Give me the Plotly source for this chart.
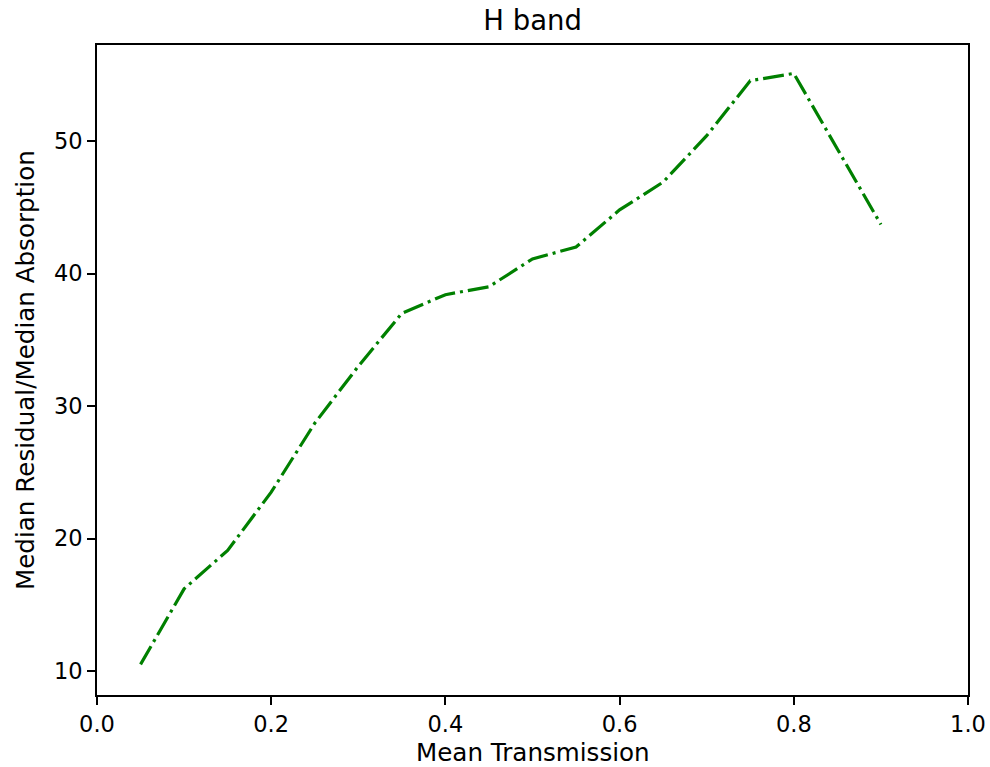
import plotly.graph_objects as go

mean_transmission = [0.05, 0.10, 0.15, 0.20, 0.25, 0.30, 0.35, 0.40, 0.45,
                     0.50, 0.55, 0.60, 0.65, 0.70, 0.75, 0.80, 0.85, 0.90]
median_ratio = [10.5, 16.2, 19.1, 23.5, 28.7, 33.0, 37.0, 38.4, 39.0,
                41.1, 42.0, 44.8, 46.9, 50.4, 54.55, 55.1, 49.4, 43.7]

x_ticks = [0.0, 0.2, 0.4, 0.6, 0.8, 1.0]
x_tick_labels = ["0.0", "0.2", "0.4", "0.6", "0.8", "1.0"]
y_ticks = [10, 20, 30, 40, 50]
y_tick_labels = ["10", "20", "30", "40", "50"]

FONT = "DejaVu Sans"

fig = go.Figure()
fig.add_trace(go.Scatter(
    x=mean_transmission, y=median_ratio, mode="lines",
    line=dict(color="#008000", width=3.2, dash="21px,5px,3px,5px"),
    showlegend=False,
))

axis_common = dict(
    showline=True, linecolor="black", linewidth=1.8, mirror=True,
    ticks="outside", ticklen=8, tickwidth=1.8, tickcolor="black",
    showgrid=False, zeroline=False, automargin=False,
    tickfont=dict(family=FONT, size=22.5, color="black"),
)

fig.update_layout(
    template="none",
    width=990, height=767,
    margin=dict(l=97, r=22, t=45, b=72),
    paper_bgcolor="white", plot_bgcolor="white",
    font=dict(family=FONT, color="black"),
    title=dict(text="H band", x=0.538, xanchor="center", y=1 - 20 / 767,
               yanchor="middle", font=dict(family=FONT, size=27.5, color="black")),
    xaxis=dict(range=[0, 1], tickvals=x_ticks, ticktext=x_tick_labels, **axis_common),
    yaxis=dict(range=[8.19, 57.245], tickvals=y_ticks, ticktext=y_tick_labels, **axis_common),
    annotations=[
        dict(text="Mean Transmission", xref="paper", yref="paper", x=0.5, y=-57 / 650,
             xanchor="center", yanchor="middle", showarrow=False,
             font=dict(family=FONT, size=24.6, color="black")),
        dict(text="Median Residual/Median Absorption", xref="paper", yref="paper",
             x=-72 / 871, y=0.5, xanchor="center", yanchor="middle", textangle=-90,
             showarrow=False, font=dict(family=FONT, size=24.6, color="black")),
    ],
)

fig.write_html("out.html")
